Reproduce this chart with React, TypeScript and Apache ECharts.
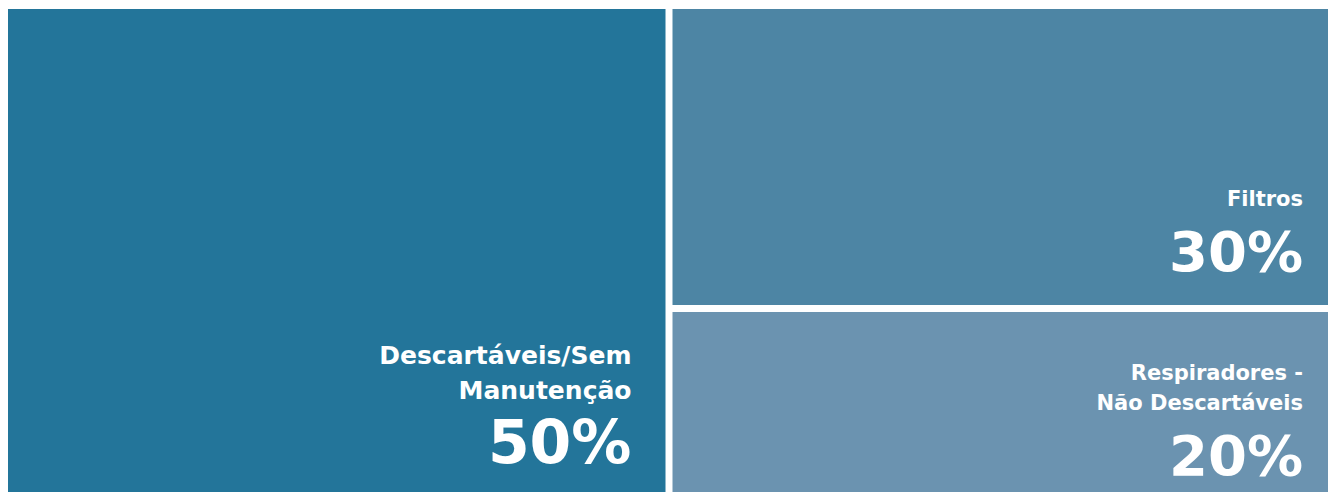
import React, { useEffect, useRef } from "react";
import * as echarts from "echarts";

const categories = ["Descartáveis/Sem\nManutenção", "Filtros", "Respiradores -\nNão Descartáveis"];
const values = [50, 30, 20];
const colors = ["#23759a", "#4d85a4", "#6b93b0"];
const nameSizes = [25, 21, 21];
const nameLineHeights = [35, 30, 30];
const pctSizes = [60, 56, 56];
const pctLineHeights = [68, 75, 75];
const labelPadding = [
  [329, 34, 0, 0],
  [175, 28, 0, 0],
  [46, 28, 0, 0],
];

const FONT = "DejaVu Sans";

export default function App() {
  const ref = useRef<HTMLDivElement>(null);
  useEffect(() => {
    if (!ref.current) return;
    const chart = echarts.init(ref.current, undefined, { renderer: "svg" });
    chart.setOption({
      animation: false,
      series: [
        {
          type: "treemap",
          left: 0,
          top: 0,
          right: 0,
          bottom: 0,
          roam: false,
          nodeClick: false,
          silent: true,
          squareRatio: 2,
          breadcrumb: { show: false },
          itemStyle: { borderWidth: 0, gapWidth: 7, borderColor: "#ffffff" },
          levels: [{ itemStyle: { borderWidth: 0, gapWidth: 7 } }],
          label: {
            show: true,
            position: "insideBottomRight",
            distance: 0,
            align: "right",
            fontFamily: FONT,
          },
          data: categories.map((name, i) => ({
            name,
            value: values[i],
            itemStyle: { color: colors[i] },
            label: {
              padding: labelPadding[i],
              formatter: (p: any) => `{name|${p.name}}\n{pct|${p.value}%}`,
              rich: {
                name: {
                  fontFamily: FONT,
                  fontWeight: "bold",
                  fontSize: nameSizes[i],
                  lineHeight: nameLineHeights[i],
                  color: "#ffffff",
                  align: "right",
                },
                pct: {
                  fontFamily: FONT,
                  fontWeight: "bold",
                  fontSize: pctSizes[i],
                  lineHeight: pctLineHeights[i],
                  color: "#ffffff",
                  align: "right",
                },
              },
            },
          })),
        },
      ],
    });
    return () => chart.dispose();
  }, []);
  return (
    <div
      ref={ref}
      style={{ position: "relative", left: -1, top: 1, width: 1324, height: 498 }}
    />
  );
}
